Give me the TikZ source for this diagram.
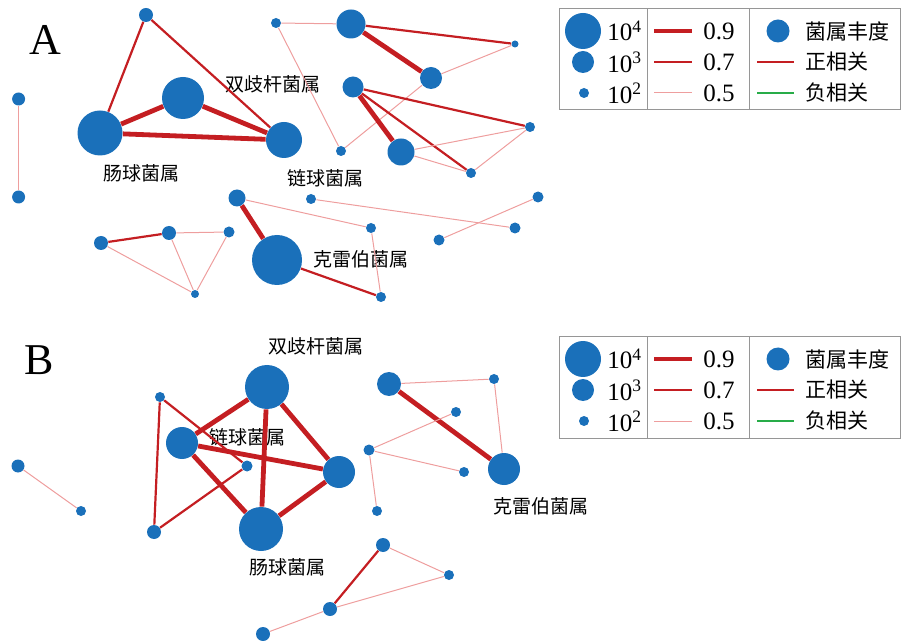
\documentclass[tikz,border=0pt]{standalone}
\usepackage{fontspec}
\setmainfont{Liberation Serif}
\newfontfamily\cjk{Noto Sans CJK SC}
\usepackage{tikz}
\definecolor{genusblue}{RGB}{26,112,186}
\definecolor{corred}{RGB}{196,30,34}
\definecolor{corpink}{RGB}{238,158,158}
\definecolor{corgreen}{RGB}{40,172,72}
\definecolor{boxgray}{RGB}{150,150,150}
\tikzset{
	genus/.style={circle, fill=genusblue, inner sep=0pt, minimum size=#1},
	corrhi/.style={draw=corred, line width=2.4pt},
	corrmid/.style={draw=corred, line width=1.1pt},
	corrlo/.style={draw=corpink, line width=0.5pt},
	genusname/.style={font=\cjk\fontsize{9.5pt}{11pt}\selectfont},
	panel/.style={font=\fontsize{22pt}{24pt}\selectfont},
	keytext/.style={font=\fontsize{12.5pt}{14pt}\selectfont, inner sep=0pt, anchor=west},
	keycjk/.style={font=\cjk\fontsize{10.5pt}{12pt}\selectfont, inner sep=0pt, anchor=west}
}

\begin{document}
\begin{tikzpicture}[x=0.5pt,y=-0.5pt]
		\useasboundingbox (0,0) rectangle (904,641);
		%Pannello A
		\node [panel] (lettA) at (45,40) {A};
		\node [genus=7pt] (aTop) at (146,15) {};
		\node [genus=22.5pt] (entA) at (100,133) {};
		\node [genus=21pt] (bifA) at (183,98) {};
		\node [genus=18pt] (strA) at (284,140) {};
		\node [genusname] (nbifA) at (273,84) {双歧杆菌属};
		\node [genusname] (nentA) at (141,173) {肠球菌属};
		\node [genusname] (nstrA) at (325,178) {链球菌属};
		\draw [corrmid] (aTop) -- (entA);
		\draw [corrmid] (aTop) -- (strA);
		\draw [corrhi] (entA) -- (bifA);
		\draw [corrhi] (bifA) -- (strA);
		\draw [corrhi] (entA) -- (strA);
		%coppia a sinistra
		\node [genus=6.5pt] (lA1) at (18.6,99) {};
		\node [genus=6.5pt] (lA2) at (18.6,197) {};
		\draw [corrlo] (lA1) -- (lA2);
		%gruppo in alto a destra
		\node [genus=5pt] (sA1) at (276,23) {};
		\node [genus=14.5pt] (bigA) at (351,24) {};
		\node [genus=3.5pt] (tinyA) at (515,44) {};
		\node [genus=11pt] (mA) at (431,78) {};
		\node [genus=5pt] (sA2) at (341,151) {};
		\draw [corrlo] (sA1) -- (bigA);
		\draw [corrlo] (sA1) -- (sA2);
		\draw [corrhi] (bigA) -- (mA);
		\draw [corrmid] (bigA) -- (tinyA);
		\draw [corrlo] (mA) -- (tinyA);
		\draw [corrlo] (sA2) -- (mA);
		\node [genus=10.5pt] (nA3) at (353,87) {};
		\node [genus=13.5pt] (nA4) at (401,152) {};
		\node [genus=5pt] (nA5) at (530,127) {};
		\node [genus=5pt] (nA6) at (471,173) {};
		\draw [corrhi] (nA3) -- (nA4);
		\draw [corrmid] (nA3) -- (nA5);
		\draw [corrmid] (nA3) -- (nA6);
		\draw [corrlo] (nA4) -- (nA5);
		\draw [corrlo] (nA4) -- (nA6);
		\draw [corrlo] (nA6) -- (nA5);
		%Klebsiella
		\node [genus=8.5pt] (kA1) at (237,198) {};
		\node [genus=25pt] (klebA) at (277,260) {};
		\node [genus=5pt] (kA2) at (381,297) {};
		\node [genus=5pt] (kA3) at (371,228) {};
		\node [genusname] (nklebA) at (361,259) {克雷伯菌属};
		\draw [corrhi] (kA1) -- (klebA);
		\draw [corrmid] (klebA) -- (kA2);
		\draw [corrlo] (kA1) -- (kA3);
		\draw [corrlo] (kA3) -- (kA2);
		\node [genus=5pt] (qA1) at (311,199) {};
		\node [genus=5.5pt] (qA2) at (515,228) {};
		\node [genus=5.5pt] (qA3) at (439,240) {};
		\node [genus=5.5pt] (qA4) at (538,197) {};
		\draw [corrlo] (qA1) -- (qA2);
		\draw [corrlo] (qA3) -- (qA4);
		%triangolo in basso
		\node [genus=7pt] (tA1) at (101,243) {};
		\node [genus=7pt] (tA2) at (169,233) {};
		\node [genus=5.5pt] (tA3) at (229,232) {};
		\node [genus=4pt] (tA4) at (195,294) {};
		\draw [corrmid] (tA1) -- (tA2);
		\draw [corrlo] (tA2) -- (tA3);
		\draw [corrlo] (tA1) -- (tA4);
		\draw [corrlo] (tA2) -- (tA4);
		\draw [corrlo] (tA3) -- (tA4);
		%Pannello B
		\node [panel] (lettB) at (39.5,360) {B};
		\node [genus=22pt] (bifB) at (267,387) {};
		\node [genus=16pt] (strB) at (182,443) {};
		\node [genus=22pt] (entB) at (261,529) {};
		\node [genus=16pt] (rB) at (339,472) {};
		\node [genusname] (nbifB) at (316,346) {双歧杆菌属};
		\node [genusname] (nstrB) at (247,437) {链球菌属};
		\node [genusname] (nentB) at (287,567) {肠球菌属};
		\draw [corrhi] (bifB) -- (strB);
		\draw [corrhi] (bifB) -- (entB);
		\draw [corrhi] (bifB) -- (rB);
		\draw [corrhi] (strB) -- (rB);
		\draw [corrhi] (strB) -- (entB);
		\draw [corrhi] (entB) -- (rB);
		\node [genus=5pt] (sB1) at (160,397) {};
		\node [genus=5.5pt] (sB2) at (247,466) {};
		\node [genus=7pt] (sB3) at (154,532) {};
		\draw [corrmid] (sB1) -- (sB3);
		\draw [corrmid] (sB1) -- (sB2);
		\draw [corrmid] (sB2) -- (sB3);
		%coppia a sinistra
		\node [genus=6.5pt] (lB1) at (18,466) {};
		\node [genus=5pt] (lB2) at (81,511) {};
		\draw [corrlo] (lB1) -- (lB2);
		%Klebsiella
		\node [genus=12pt] (bigB) at (389,384) {};
		\node [genus=16pt] (klebB) at (504,469) {};
		\node [genus=5pt] (pB1) at (494,379) {};
		\node [genusname] (nklebB) at (541,506) {克雷伯菌属};
		\draw [corrhi] (bigB) -- (klebB);
		\draw [corrlo] (bigB) -- (pB1);
		\draw [corrlo] (pB1) -- (klebB);
		\node [genus=5.5pt] (hB) at (369,450) {};
		\node [genus=5pt] (pB2) at (456,412) {};
		\node [genus=5pt] (pB3) at (464,472) {};
		\node [genus=5pt] (pB4) at (377,511) {};
		\draw [corrlo] (hB) -- (pB2);
		\draw [corrlo] (hB) -- (pB3);
		\draw [corrlo] (hB) -- (pB4);
		%gruppo in basso
		\node [genus=7pt] (uB1) at (383,545) {};
		\node [genus=5pt] (uB2) at (449,575) {};
		\node [genus=7pt] (uB3) at (330,609) {};
		\node [genus=7pt] (uB4) at (263,634) {};
		\draw [corrmid] (uB1) -- (uB3);
		\draw [corrlo] (uB1) -- (uB2);
		\draw [corrlo] (uB2) -- (uB3);
		\draw [corrlo] (uB3) -- (uB4);
		%Legenda
		\foreach \ly in {9,337}{
			\draw [boxgray, line width=0.5pt] (559,\ly) rectangle (900,{\ly+101});
			\draw [boxgray, line width=0.5pt] (647,\ly) -- (647,{\ly+101});
			\draw [boxgray, line width=0.5pt] (749,\ly) -- (749,{\ly+101});
			\node [genus=18pt] (ab4\ly) at (583,{\ly+22}) {};
			\node [genus=11pt] (ab3\ly) at (583,{\ly+53}) {};
			\node [genus=5pt] (ab2\ly) at (584,{\ly+84}) {};
			\node [keytext] (tab4\ly) at (607,{\ly+22}) {10\textsuperscript{4}};
			\node [keytext] (tab3\ly) at (607,{\ly+53}) {10\textsuperscript{3}};
			\node [keytext] (tab2\ly) at (607,{\ly+84}) {10\textsuperscript{2}};
			\draw [corrhi, line width=2pt] (654,{\ly+22}) -- (692,{\ly+22});
			\draw [corrmid] (654,{\ly+53}) -- (692,{\ly+53});
			\draw [corrlo] (654,{\ly+84}) -- (692,{\ly+84});
			\node [keytext] (tw9\ly) at (703,{\ly+22}) {0.9};
			\node [keytext] (tw7\ly) at (703,{\ly+53}) {0.7};
			\node [keytext] (tw5\ly) at (703,{\ly+84}) {0.5};
			\node [genus=11.5pt] (abk\ly) at (778,{\ly+22}) {};
			\draw [corrmid] (757,{\ly+53}) -- (794,{\ly+53});
			\draw [draw=corgreen, line width=1.1pt] (757,{\ly+84}) -- (794,{\ly+84});
			\node [keycjk] (tabk\ly) at (805,{\ly+22}) {菌属丰度};
			\node [keycjk] (tpos\ly) at (805,{\ly+53}) {正相关};
			\node [keycjk] (tneg\ly) at (805,{\ly+84}) {负相关};
		}
\end{tikzpicture}
\end{document}
